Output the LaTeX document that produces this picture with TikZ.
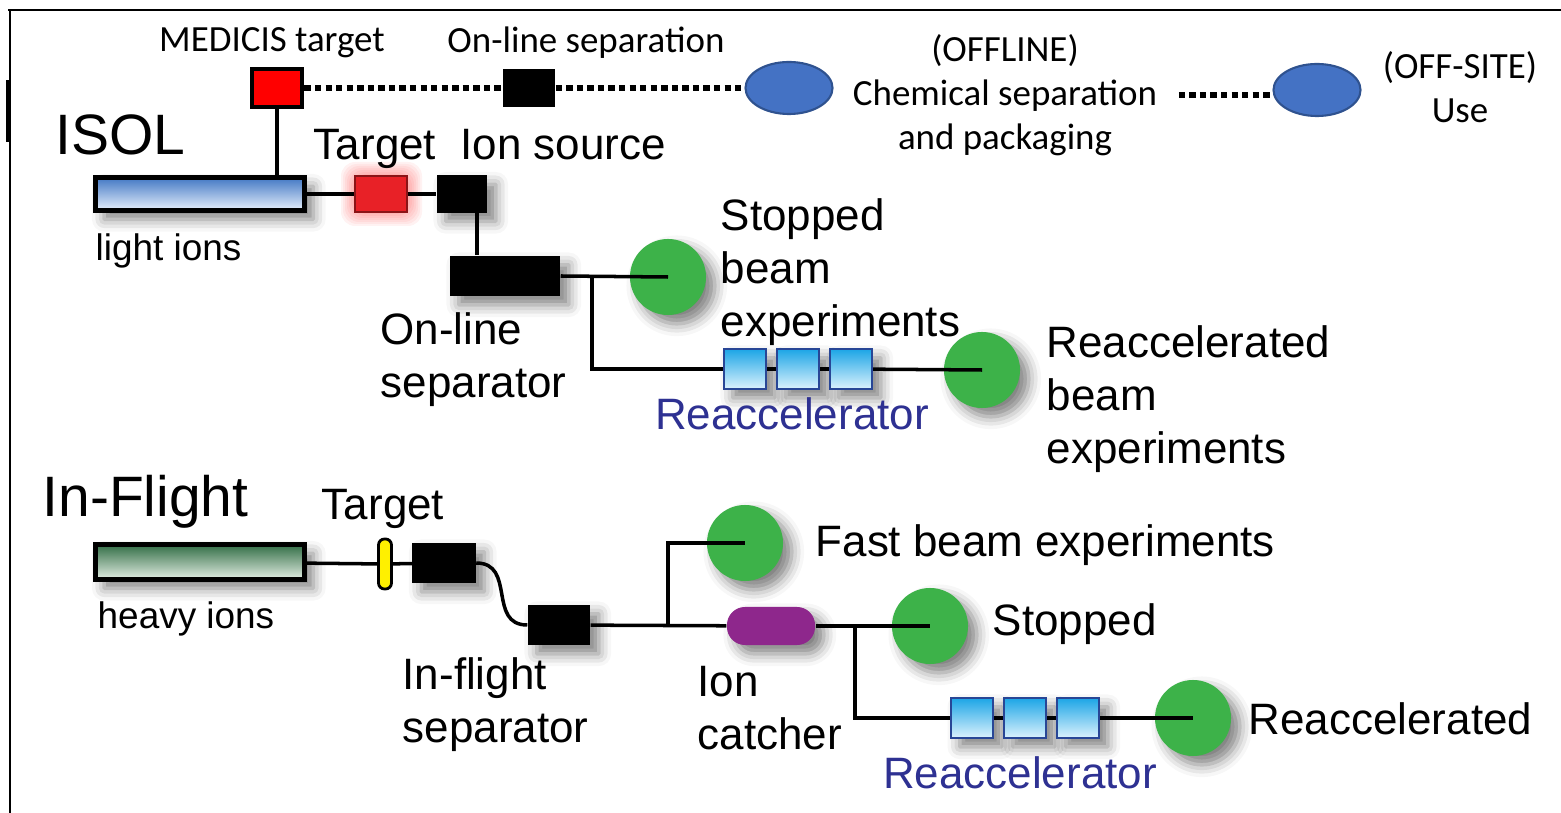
\documentclass[tikz,border=0pt]{standalone}
\usepackage{fontspec}
\setmainfont{Liberation Sans}
\newfontfamily\calibri{Carlito}
\usepackage{tikz}
\usetikzlibrary{shapes.geometric,shadows.blur}
\definecolor{expgreen}{RGB}{61,178,73}
\definecolor{tgtred}{RGB}{232,33,39}
\definecolor{offblue}{RGB}{68,114,196}
\definecolor{offborder}{RGB}{47,82,143}
\definecolor{catchpurple}{RGB}{142,39,140}
\definecolor{foilyellow}{RGB}{255,240,0}
\definecolor{accnavy}{RGB}{46,49,146}
\definecolor{acctop}{RGB}{28,165,230}
\definecolor{accbot}{RGB}{220,242,253}
\definecolor{accborder}{RGB}{40,70,150}
\definecolor{lighttop}{RGB}{66,120,196}
\definecolor{lightbot}{RGB}{232,240,252}
\definecolor{heavytop}{RGB}{50,110,70}
\definecolor{heavybot}{RGB}{228,238,228}
\newcommand{\lblsize}{\fontsize{12.5}{15.1}\selectfont}
\newcommand{\subsize}{\fontsize{10.5}{12.6}\selectfont}
\newcommand{\bigsize}{\fontsize{16.2}{19}\selectfont}
\newcommand{\topsize}{\calibri\fontsize{10.5}{12.5}\selectfont}

\tikzset{
  beam/.style={line width=1pt},
  thickline/.style={line width=1.4pt},
  dotline/.style={line width=1.7pt, dash pattern=on 1.8pt off 1.2pt},
  shd/.style={blur shadow={shadow xshift=2.5pt, shadow yshift=-2.5pt, shadow blur radius=3.5pt, shadow opacity=50}},
  toplbl/.style={font=\topsize, align=center, inner sep=0pt},
  lbl/.style={font=\lblsize, align=left, inner sep=0pt},
  sublbl/.style={font=\subsize, inner sep=0pt},
  biglbl/.style={font=\bigsize, inner sep=0pt},
  acclbl/.style={font=\lblsize, text=accnavy, inner sep=0pt},
  medbox/.style={draw=black, line width=1.4pt, fill=red, minimum width=0.5cm, minimum height=0.38cm, inner sep=0pt},
  sepsq/.style={fill=black, minimum width=0.52cm, minimum height=0.37cm, inner sep=0pt},
  offell/.style={ellipse, draw=offborder, line width=0.6pt, fill=offblue, minimum width=0.87cm, minimum height=0.52cm, inner sep=0pt},
  blkbox/.style={fill=black, inner sep=0pt, shd},
  lightbar/.style={draw=black, line width=1.4pt, top color=lighttop, bottom color=lightbot, minimum width=2.09cm, minimum height=0.33cm, inner sep=0pt, shd},
  heavybar/.style={draw=black, line width=1.4pt, top color=heavytop, bottom color=heavybot, minimum width=2.09cm, minimum height=0.35cm, inner sep=0pt, shd},
  tgtbox/.style={draw=tgtred!60!black, line width=0.5pt, fill=tgtred, minimum width=0.52cm, minimum height=0.36cm, inner sep=0pt},
  foil/.style={draw=black, line width=0.8pt, fill=foilyellow, rounded corners=0.06cm, minimum width=0.13cm, minimum height=0.5cm, inner sep=0pt},
  catcher/.style={fill=catchpurple, rounded corners=0.18cm, minimum width=0.88cm, minimum height=0.38cm, inner sep=0pt, shd},
  expcirc/.style={circle, fill=expgreen, minimum size=0.76cm, inner sep=0pt, shd},
  racc/.style={draw=accborder, line width=0.6pt, top color=acctop, bottom color=accbot, minimum width=0.42cm, minimum height=0.4cm, inner sep=0pt, shd}
}

\begin{document}
\begin{tikzpicture}[x=0.01cm, y=-0.01cm]
        \useasboundingbox (0,0) rectangle (1561,813);
        \draw[line width=0.6pt] (8,10) -- (1561,10);
        \draw[line width=0.6pt] (10,10) -- (10,813);
        \draw[line width=1.4pt] (8,80) -- (8,142);

        \node[toplbl, anchor=base] (medlbl) at (272,52) {MEDICIS target};
        \node[medbox] (medicis) at (277,88) {};
        \node[toplbl, anchor=base] (seplbl) at (586,53) {On-line separation};
        \node[sepsq] (onsep) at (529,88) {};
        \node[offell] (chem) at (789,88) {};
        \node[toplbl] (chemlbl) at (1005,95) {(OFFLINE)\\Chemical separation\\and packaging};
        \node[offell] (use) at (1317,90) {};
        \node[toplbl] (uselbl) at (1460,87) {(OFF-SITE)\\Use};
        \draw[dotline] (medicis) -- (onsep) -- (chem);
        \draw[dotline] ([xshift=6pt]chemlbl.east) -- (chemlbl.east -| use.west);

        \node[biglbl, anchor=base west] (isol) at (55,155) {ISOL};
        \node[lightbar] (light) at (200,194) {};
        \node[sublbl, anchor=base west] (lightlbl) at (95,261) {light ions};
        \foreach \g in {2,4,...,14}
            \fill[red, opacity=0.05, rounded corners=4pt] ({355-\g},{176-\g}) rectangle ({408+\g},{212+\g});
        \node[tgtbox] (tgt) at (381,194) {};
        \node[blkbox, minimum width=0.5cm, minimum height=0.37cm] (ionsrc) at (462,194) {};
        \node[lbl, anchor=base] (tgtlbl) at (375,160) {Target};
        \node[lbl, anchor=base] (srclbl) at (563,160) {Ion source};
        \node[blkbox, minimum width=1.1cm, minimum height=0.4cm] (olsepar) at (505,276) {};
        \node[lbl, anchor=west] (olseplbl) at (380,360) {On-line\\separator};
        \node[expcirc] (stopA) at (668,277) {};
        \node[lbl, anchor=west] (stopAlbl) at (720,272) {Stopped\\beam\\experiments};
        \node[racc] (raA1) at (745,369) {};
        \node[racc] (raA2) at (798,369) {};
        \node[racc] (raA3) at (851,369) {};
        \node[acclbl, anchor=base] (raAlbl) at (792,430) {Reaccelerator};
        \node[expcirc] (reA) at (982,370) {};
        \node[lbl, anchor=west] (reAlbl) at (1046,399) {Reaccelerated\\beam\\experiments};
        \coordinate (srcdrop) at (477,212);
        \coordinate (brA) at (592,276);

        \draw[thickline] (medicis) -- (medicis |- light.north);
        \draw[beam] (light) -- (tgt) -- (ionsrc);
        \draw[beam] (srcdrop) -- (srcdrop |- olsepar.north);
        \draw[beam] (olsepar.east) -- (stopA.center);
        \draw[beam] (brA) |- (raA1.west);
        \draw[beam] (raA1) -- (raA2) -- (raA3);
        \draw[beam] (raA3) -- (reA.center);

        \node[biglbl, anchor=base west] (inflight) at (42,517) {In-Flight};
        \node[heavybar] (heavy) at (200,562) {};
        \node[sublbl, anchor=base west] (heavylbl) at (97,628) {heavy ions};
        \node[foil] (foil) at (385,564) {};
        \node[lbl, anchor=base] (foillbl) at (383,520) {Target};
        \node[blkbox, minimum width=0.63cm, minimum height=0.4cm] (ifA) at (444,563) {};
        \node[blkbox, minimum width=0.62cm, minimum height=0.4cm] (ifsep) at (559,625) {};
        \node[lbl, anchor=west] (ifseplbl) at (402,705) {In-flight\\separator};
        \node[catcher] (catch) at (771,626) {};
        \node[lbl, anchor=west] (catchlbl) at (697,708) {Ion\\catcher};
        \node[expcirc] (fast) at (745,543) {};
        \node[lbl, anchor=base west] (fastlbl) at (815,557) {Fast beam experiments};
        \node[expcirc] (stopB) at (930,626) {};
        \node[lbl, anchor=base west] (stopBlbl) at (992,636) {Stopped};
        \node[racc] (raB1) at (972,718) {};
        \node[racc] (raB2) at (1025,718) {};
        \node[racc] (raB3) at (1078,718) {};
        \node[acclbl, anchor=base] (raBlbl) at (1020,788) {Reaccelerator};
        \node[expcirc] (reB) at (1193,718) {};
        \node[lbl, anchor=base west] (reBlbl) at (1248,734) {Reaccelerated};
        \coordinate (brB) at (668,625);
        \coordinate (brC) at (855,626);

        \draw[beam] (heavy) -- (foil) -- (ifA);
        \draw[beam] (ifA.east) .. controls +(40,0) and +(-40,0) .. (ifsep.west);
        \draw[beam] (ifsep) -- (catch);
        \draw[beam] (brB) |- (fast.center);
        \draw[beam] (catch) -- (stopB.center);
        \draw[beam] (brC) |- (raB1.west);
        \draw[beam] (raB1) -- (raB2) -- (raB3);
        \draw[beam] (raB3) -- (reB.center);
    \end{tikzpicture}
\end{document}
